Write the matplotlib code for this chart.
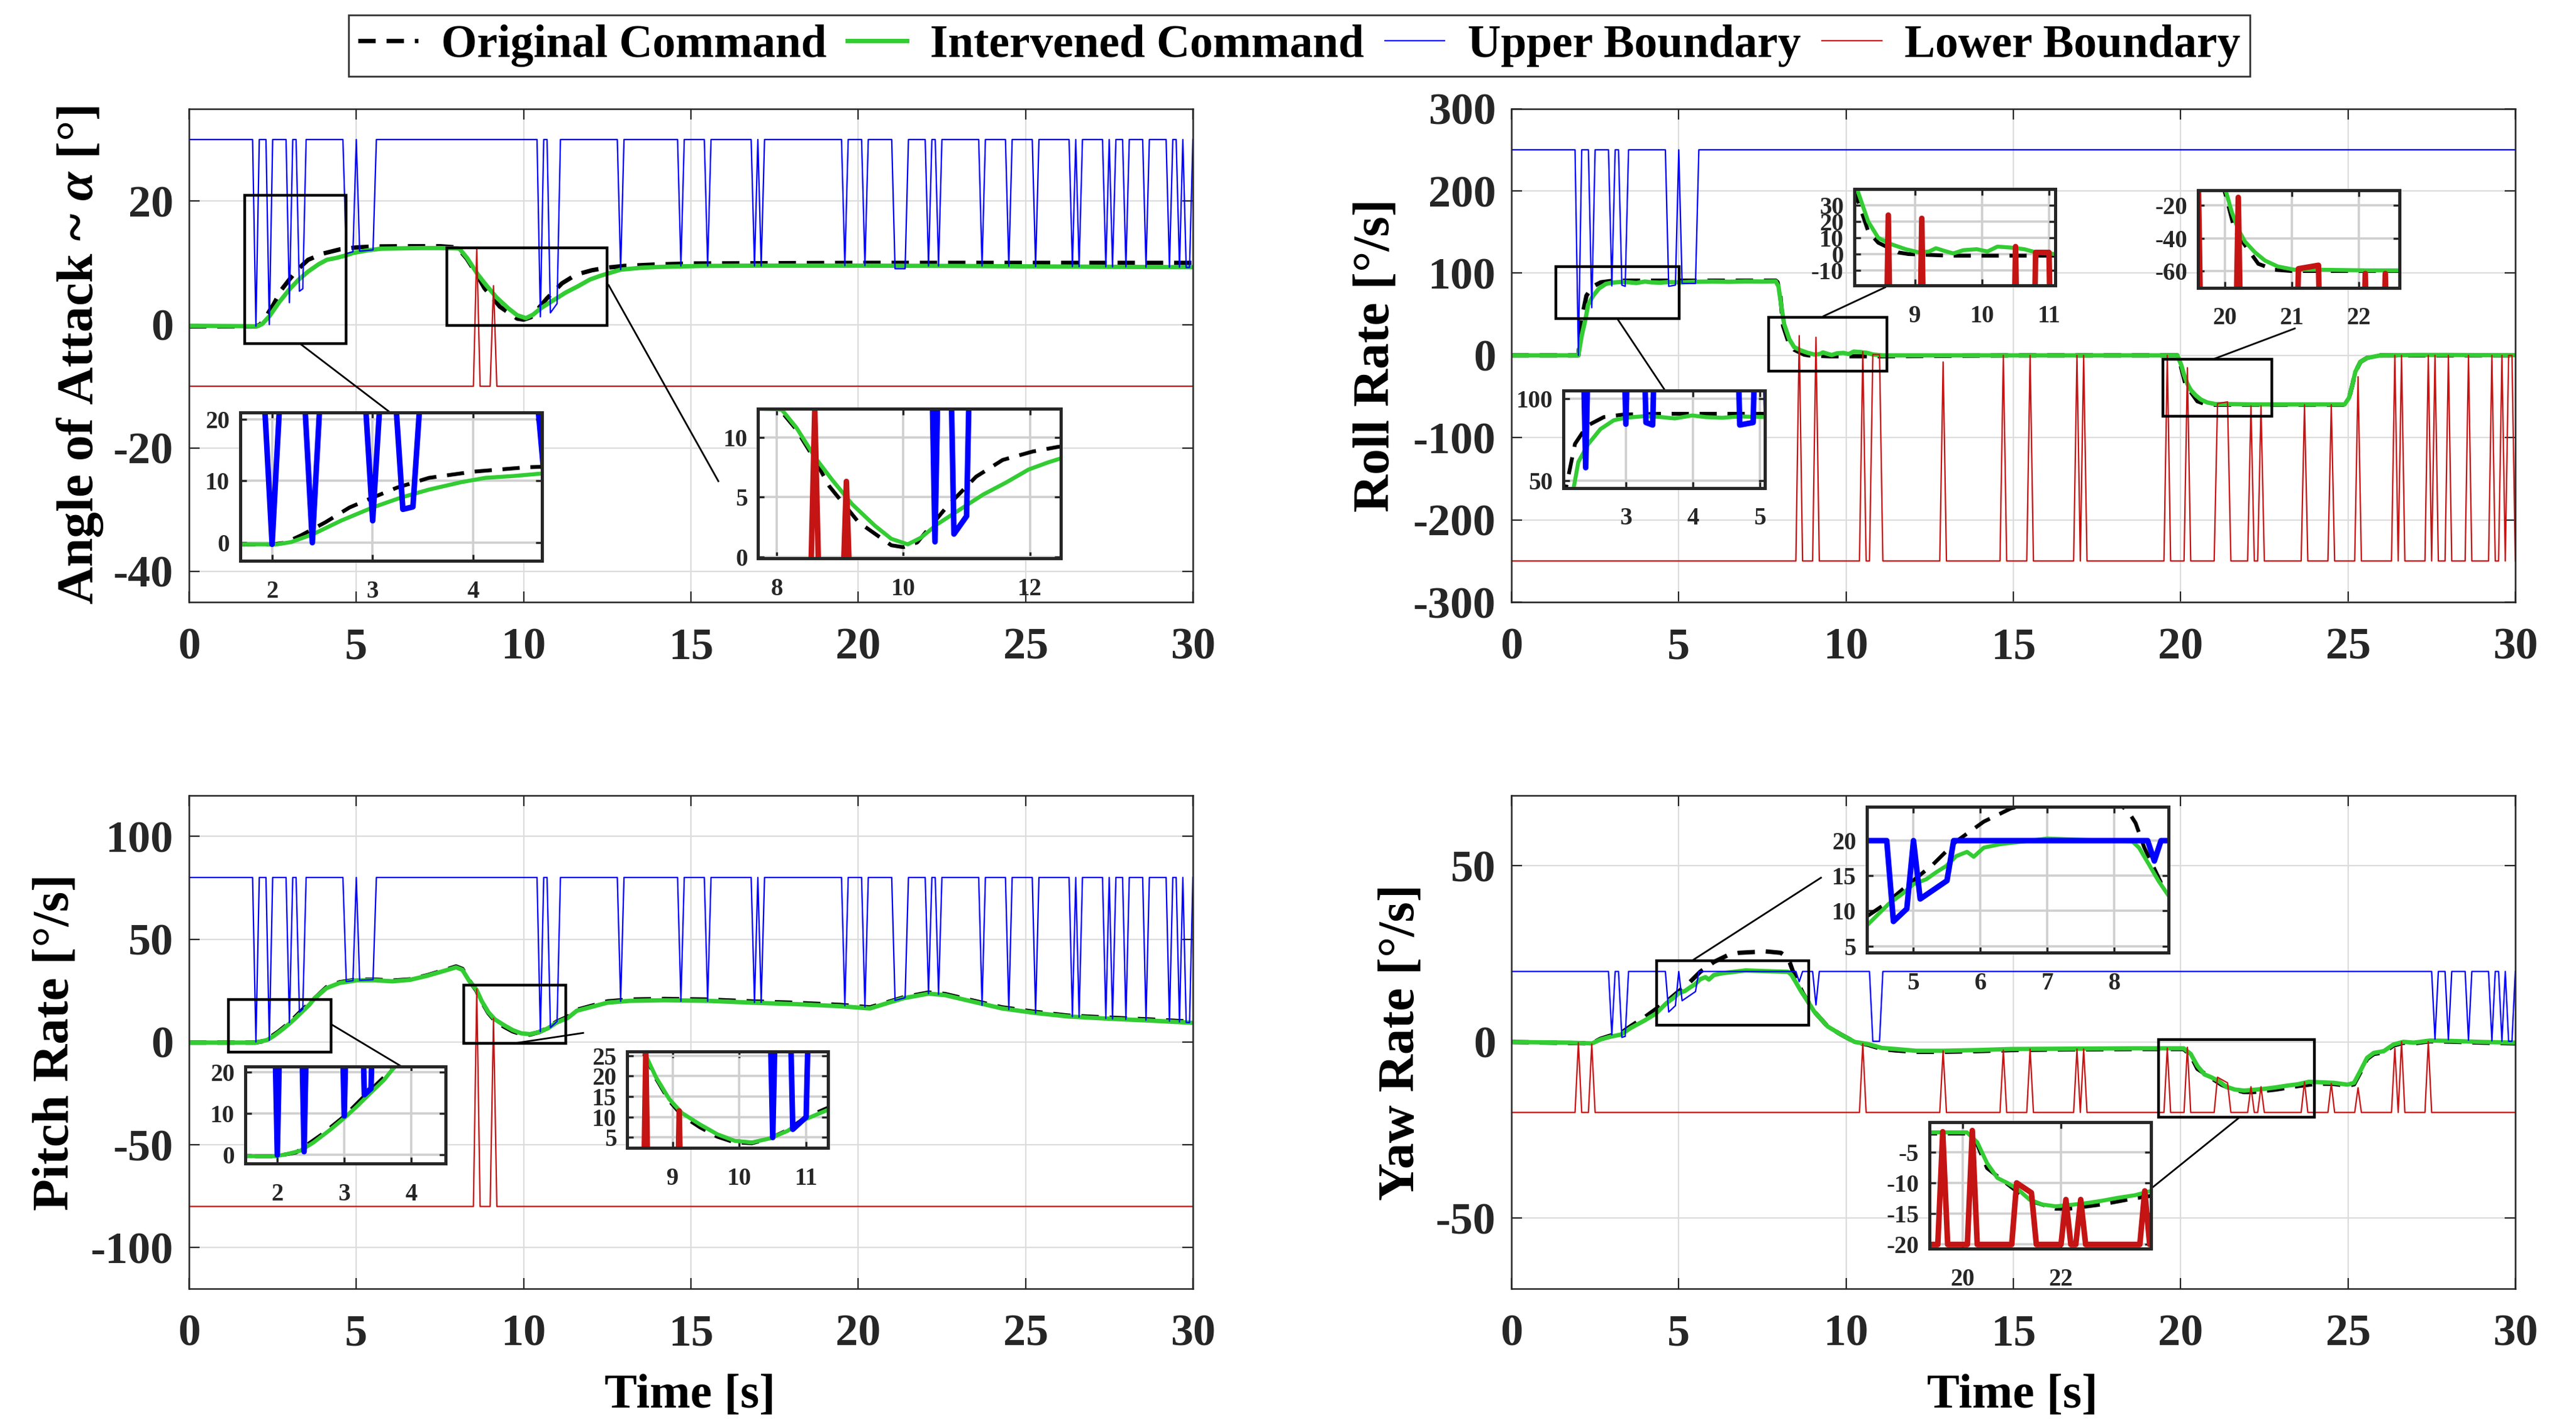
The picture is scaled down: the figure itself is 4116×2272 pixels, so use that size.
import matplotlib
matplotlib.use('Agg')
import matplotlib.pyplot as plt
from matplotlib.patches import Rectangle

plt.rcParams['font.family'] = ['Liberation Serif', 'DejaVu Serif']
plt.rcParams['font.weight'] = 'bold'
plt.rcParams['axes.labelweight'] = 'bold'
plt.rcParams['mathtext.fontset'] = 'custom'
plt.rcParams['mathtext.rm'] = 'Liberation Serif:bold'
plt.rcParams['mathtext.it'] = 'Liberation Serif:italic:bold'
plt.rcParams['axes.unicode_minus'] = False

T_END = 30.0
STEP = 0.1  # sample period of the boundary signals

# ---------------- angle of attack ----------------
aoa_t_int = [0, 1.9, 2.05, 2.19, 2.41, 2.69, 3.0, 3.28, 3.56, 3.88, 4.12, 4.4, 4.68, 4.9, 5.3, 5.74,
             6.3, 6.93, 7.5, 8.0, 8.08, 8.31, 8.62, 8.88, 9.19, 9.55, 9.81, 10.07, 10.28, 10.53, 10.85,
             11.26, 11.62, 11.98, 12.29, 12.47, 12.9, 13.5, 14.1, 15.3, 17.0, 20.0, 23.0, 26.0, 28.0, 30.0]
aoa_int = [-0.2, -0.27, -0.27, 0.1, 1.4, 3.6, 5.7, 7.3, 8.6, 9.8, 10.5, 10.8, 11.2, 11.6, 12.0, 12.3,
           12.35, 12.4, 12.4, 12.35, 12.3, 10.8, 8.2, 6.4, 4.4, 2.6, 1.5, 1.04, 1.6, 2.7, 3.8,
           5.2, 6.2, 7.3, 7.9, 8.2, 8.9, 9.2, 9.35, 9.5, 9.55, 9.55, 9.5, 9.4, 9.35, 9.3]
aoa_t_org = [0, 2.0, 2.13, 2.29, 2.53, 2.77, 3.0, 3.24, 3.56, 4.0, 4.52, 5.0, 5.5, 6.5, 7.5, 8.0, 8.05,
             8.3, 8.57, 8.83, 9.29, 9.81, 10.0, 10.22, 10.69, 11.15, 11.57, 12.04, 12.45, 13.0, 14.0,
             15.0, 20.0, 25.0, 30.0]
aoa_org = [-0.3, -0.3, 0.0, 1.2, 3.3, 5.7, 7.3, 8.9, 10.5, 11.5, 12.2, 12.5, 12.65, 12.7, 12.7, 12.5, 12.3,
           10.7, 8.4, 5.9, 2.9, 0.96, 0.8, 1.2, 4.2, 6.7, 8.1, 8.8, 9.2, 9.5, 9.75,
           9.9, 10.0, 10.0, 10.0]
aoa_upper = 30.0
aoa_lower = -10.0
aoa_up_dips = [(2.0, -0.27), (2.4, 0.0), (3.0, 3.55), (3.3, 3.4, 5.4, 5.8), (4.7, 4.9, 11.5, 11.8),
               (5.1, 5.5, 11.9, 12.1), (10.5, 1.25), (10.8, 11.0, 1.9, 3.4), (12.9, 8.9), (14.7, 9.5),
               (15.5, 9.5), (16.9, 9.5), (17.1, 9.5), (19.6, 9.55), (20.2, 9.55), (21.1, 21.4, 9.05, 9.05),
               (22.1, 9.5), (22.4, 9.5), (23.7, 9.5), (24.5, 9.45), (25.3, 9.4), (26.4, 9.4), (26.6, 9.4),
               (27.4, 9.35), (27.6, 9.35), (28.0, 9.35), (28.6, 9.3), (29.3, 9.3), (29.6, 9.3),
               (29.8, 29.9, 9.25, 9.25)]
aoa_low_dips = [(8.6, 12.3), (9.1, 6.3)]

# ---------------- roll rate ----------------
roll_t_int = [0, 2.0, 2.1, 2.22, 2.29, 2.44, 2.62, 2.82, 3.0, 3.28, 3.53, 3.73, 3.99, 4.19, 4.44, 4.7,
              5.08, 5.5, 6.0, 6.5, 7.0, 7.5, 7.9, 7.98, 8.08, 8.15, 8.3, 8.45, 8.65, 8.86, 9.06, 9.21,
              9.31, 9.45, 9.57, 9.72, 9.92, 10.08, 10.23, 10.43, 10.63, 10.81, 11.09, 12.0, 15.0, 19.9,
              20.02, 20.1, 20.2, 20.3, 20.45, 20.6, 20.79, 21.04, 21.4, 22.13, 23.0, 24.0, 24.9, 25.03,
              25.13, 25.22, 25.37, 25.57, 25.97, 27.0, 28.0, 29.0, 30.0]
roll_int = [0, 0, 24, 45.6, 61.5, 72.5, 81.5, 86.9, 88.4, 89.4, 88.8, 88, 89.8, 88.8, 88.4, 89.2,
            88.8, 89.5, 89.8, 89.5, 90, 89.8, 90, 84, 56, 38, 20, 10, 6, 3, 1, 1.6,
            3.6, 1.8, 0.4, 2.4, 3, 1.6, 4.6, 4, 3, 1, 0, 0, 0, 0,
            -12, -23.6, -34.6, -42, -48.6, -53.6, -57.2, -59.2, -59.2, -59.6, -59.6, -59.6, -59.6, -51.6,
            -35.7, -19.8, -7.9, -3.1, 0, 0.5, 0.5, 0.3, 0.3]
roll_t_org = [0, 2.0, 2.11, 2.24, 2.42, 2.67, 2.97, 3.5, 5.0, 6.0, 7.0, 7.9, 7.95, 8.03, 8.12, 8.3, 8.45,
              8.75, 8.9, 9.5, 11.0, 15.0, 19.9, 20.0, 20.15, 20.5, 20.74, 21.0, 23.0, 24.9, 25.03, 25.13,
              25.22, 25.37, 25.57, 25.97, 30.0]
roll_org = [0, 0, 46.6, 72.5, 83.5, 88.8, 90.4, 90.8, 90.8, 90.8, 90.8, 90.8, 89, 75, 36, 14, 7,
            1, 0, -1, -1, 0, 0, -12, -35.6, -55.6, -59.2, -60, -60, -60, -52, -36,
            -20, -8, -3, 0, 0]
roll_upper = 250.0
roll_lower = -250.0
roll_up_dips = [(2.0, 0.0), (2.4, 58.0), (3.0, 84.5), (3.3, 3.4, 85.5, 84.0), (4.7, 4.9, 84.0, 85.5),
                (5.1, 5.5, 87.5, 87.5)]
roll_low_dips = [(8.6, 24.0), (9.1, 22.0), (10.5, 4.6), (10.8, 11.0, 1.0, 1.0), (12.9, -8.0), (14.7, 0.0),
                 (15.5, 0.0), (16.9, 0.0), (17.1, 0.0), (19.6, 0.0), (20.2, -15.0), (21.1, 21.4, -58.6, -56.5),
                 (22.1, -61.5), (22.4, -61.5), (23.7, -60.0), (24.5, -60.0), (25.3, -26.0), (26.4, 0.0),
                 (26.6, 0.0), (27.4, 0.0), (27.6, 0.0), (28.0, 0.0), (28.6, 0.0), (29.3, 0.0), (29.6, 0.0),
                 (29.8, 29.9, 0.0, 0.0)]

# ---------------- pitch rate ----------------
pitch_t_int = [0, 1.98, 2.14, 2.34, 2.54, 2.8, 3.0, 3.19, 3.39, 3.59, 3.75, 4.11, 4.5, 5.02, 5.55, 6.08,
               6.6, 7.12, 7.65, 7.98, 8.17, 8.37, 8.59, 8.75, 8.95, 9.14, 9.41, 9.67, 9.93, 10.19, 10.46,
               10.72, 10.98, 11.33, 11.59, 12.11, 12.5, 13.16, 14.21, 15.52, 16.83, 18.14, 19.46, 20.35,
               20.87, 21.36, 22.1, 22.59, 23.32, 24.3, 25.29, 26.27, 27.5, 28.73, 30.0]
pitch_int = [-0.3, -0.3, 0.2, 1.0, 3.0, 6.2, 8.9, 11.7, 14.9, 18.0, 21.2, 26.2, 28.7, 30.0, 30.0, 29.5,
             30.2, 32.2, 34.7, 36.3, 35.1, 29.8, 25.4, 19.8, 14.4, 11.0, 8.2, 5.8, 4.2, 3.8, 4.8,
             6.6, 9.4, 11.8, 15.2, 17.4, 19.1, 20.0, 20.3, 20.0, 19.1, 18.4, 17.4, 16.3,
             18.9, 21.3, 23.5, 22.8, 20.0, 16.3, 14.1, 12.4, 11.3, 10.4, 9.3]
pitch_t_org = [0, 1.98, 2.28, 2.67, 3.0, 3.32, 3.65, 4.11, 4.5, 5.02, 5.55, 6.08, 6.6, 7.12, 7.65, 7.98,
               8.17, 8.37, 8.59, 8.75, 8.95, 9.14, 9.41, 9.67, 9.93, 10.19, 10.46, 10.72, 10.98, 11.33,
               11.59, 12.11, 12.5, 13.16, 14.21, 15.52, 16.83, 18.14, 19.46, 20.35, 20.87, 21.36, 22.1,
               22.59, 23.32, 24.3, 25.29, 26.27, 27.5, 28.73, 30.0]
pitch_org = [-0.3, -0.3, 0.6, 5.0, 9.3, 14.5, 19.6, 26.6, 29.0, 30.3, 30.3, 29.8, 30.4, 32.4, 35.0, 36.7,
             35.5, 30.0, 25.0, 19.5, 14.0, 10.4, 7.5, 5.2, 3.8, 3.6, 4.8, 6.8, 9.8, 12.3,
             15.6, 17.9, 19.7, 20.6, 20.9, 20.6, 19.7, 19.0, 18.0, 16.8, 19.3, 21.7, 24.0,
             23.3, 20.5, 16.8, 14.6, 12.8, 11.8, 10.9, 9.8]
pitch_upper = 80.0
pitch_lower = -80.0
pitch_up_dips = [(2.0, 0.0), (2.4, 0.8), (3.0, 9.4), (3.3, 3.4, 14.5, 16.0), (4.7, 4.9, 29.4, 29.8),
                 (5.1, 5.5, 30.0, 30.3), (10.5, 5.0), (10.8, 11.0, 7.0, 10.0), (12.9, 19.8), (14.7, 19.8),
                 (15.5, 19.8), (16.9, 19.2), (17.1, 19.2), (19.6, 17.6), (20.2, 17.0), (21.1, 21.4, 20.2, 21.5),
                 (22.1, 23.5), (22.4, 23.2), (23.7, 17.8), (24.5, 15.8), (25.3, 14.0), (26.4, 12.3),
                 (26.6, 12.1), (27.4, 11.4), (27.6, 11.2), (28.0, 11.0), (28.6, 10.6), (29.3, 10.1),
                 (29.6, 9.7), (29.8, 29.9, 9.5, 9.4)]
pitch_low_dips = [(8.6, 25.8), (9.1, 11.5)]

# ---------------- yaw rate ----------------
yaw_t_int = [0, 1.75, 2.41, 2.66, 2.96, 3.27, 3.57, 3.98, 4.31, 4.48, 4.63, 4.83, 5.0, 5.19, 5.34, 5.49,
             5.64, 5.8, 5.9, 6.05, 6.3, 6.66, 7.0, 7.57, 8.27, 8.37, 8.52, 8.66, 8.81, 9.05, 9.45, 9.85,
             10.26, 10.66, 11.07, 11.48, 12.09, 12.9, 13.91, 14.93, 16.66, 18.64, 20.09, 20.3, 20.5,
             20.71, 20.91, 21.12, 21.36, 21.62, 21.89, 22.16, 22.5, 22.83, 23.17, 23.5, 23.83, 24.09,
             24.58, 24.98, 25.18, 25.37, 25.57, 25.77, 26.07, 26.36, 26.66, 26.96, 27.45, 28.05, 29.04, 30.0]
yaw_int = [0, -0.2, -0.4, 0.7, 1.5, 2.1, 4.0, 6.1, 8.0, 9.6, 11.0, 12.4, 13.8, 14.5, 15.5, 16.4,
           17.8, 18.4, 17.7, 19.0, 19.5, 19.9, 20.3, 20.1, 19.9, 19.0, 16.6, 14.3, 12.2, 8.6, 4.4, 2.1,
           0.0, -0.6, -1.7, -2.0, -2.5, -2.5, -2.3, -2.0, -1.9, -1.8, -1.8, -3.4, -6.8,
           -9.2, -10.0, -11.0, -12.7, -13.5, -13.8, -13.6, -13.3, -12.9, -12.4, -12.0, -11.3, -11.4,
           -11.6, -12.1, -11.6, -8.2, -4.5, -3.1, -2.6, -0.7, 0.05, -0.2, 0.4, 0.3, 0.0, -0.2]
yaw_t_org = [0, 2.41, 2.66, 2.96, 3.27, 3.57, 3.98, 4.3, 4.58, 4.93, 5.29, 5.64, 6.05, 6.46, 6.8, 7.6,
             8.05, 8.2, 8.32, 8.45, 8.52, 8.71, 9.05, 9.45, 9.85, 10.26, 10.66, 11.07, 11.48, 12.09,
             12.9, 13.91, 14.93, 16.66, 18.64, 20.09, 20.3, 20.5, 20.85, 21.22, 21.49, 21.89, 22.16,
             22.83, 23.5, 24.09, 24.58, 24.98, 25.18, 25.37, 25.57, 25.77, 26.07, 26.36, 26.66, 26.96,
             27.45, 28.05, 29.04, 30.0]
yaw_org = [0, -0.4, 0.9, 1.8, 2.5, 4.5, 7.0, 9.2, 11.0, 13.8, 16.6, 19.9, 22.7, 24.6, 25.3, 25.7,
           25.3, 24.3, 22.5, 19.0, 17.6, 13.8, 8.6, 4.4, 2.1, 0.0, -0.8, -2.0, -2.4, -2.8,
           -2.8, -2.6, -2.3, -2.1, -2.0, -2.0, -3.8, -7.6, -9.8, -12.1, -13.2, -14.2, -14.2,
           -13.5, -12.5, -11.8, -11.9, -12.4, -12.0, -8.6, -4.8, -3.4, -2.9, -1.0, -0.2, -0.4,
           0.2, 0.1, -0.2, -0.4]
yaw_upper = 20.0
yaw_lower = -20.0
yaw_up_dips = [(3.0, 2.0), (3.3, 3.4, 1.3, 1.6), (4.7, 4.9, 8.5, 10.3), (5.1, 5.5, 11.7, 14.3), (8.6, 17.1),
               (9.1, 10.5), (10.8, 11.0, 0.2, 0.2), (27.6, 0.8), (28.0, 0.6), (28.6, 0.5), (29.3, 0.3),
               (29.6, 0.2), (29.8, 29.9, 0.2, 0.2)]
yaw_low_dips = [(2.0, -0.2), (2.4, -0.6), (10.5, -0.5), (12.9, -2.5), (14.7, -2.3), (15.5, -2.0), (16.9, -2.0),
                (17.1, -2.0), (19.6, -1.7), (20.2, -1.5), (21.1, 21.4, -10.0, -11.6), (22.1, -12.7),
                (22.4, -12.7), (23.7, -11.3), (24.5, -11.8), (25.3, -13.0), (26.4, -1.8), (26.6, 0.1),
                (27.4, 0.1)]

legend_labels = ['Original Command', 'Intervened Command', 'Upper Boundary', 'Lower Boundary']

GREEN = '#33CC33'
BLUE = '#0000FF'
RED = '#C41414'
DARK = '#262626'


def bound_line(level, dips):
    t, v = [0.0], [level]
    for d in dips:
        if len(d) == 2:
            a = b = d[0]
            va = vb = d[1]
        else:
            a, b, va, vb = d
        t += [a - STEP, a, b, b + STEP]
        v += [level, va, vb, level]
    t.append(T_END)
    v.append(level)
    return t, v


# layout of the four panels (figure fractions)
LX, RX, W = 0.07337, 0.58674, 0.38970
TY, BY, H = 0.57658, 0.09375, 0.3470

panels = [
    dict(pos=[LX, TY, W, H], ylim=(-45, 35), yticks=[-40, -20, 0, 20],
         ylabel='Angle of Attack ~ $\\alpha$ [°]', ylab_x=-0.1085, xlabel=False,
         org=(aoa_t_org, aoa_org), itv=(aoa_t_int, aoa_int),
         up=(aoa_upper, aoa_up_dips), low=(aoa_lower, aoa_low_dips),
         insets=[
             dict(rect=[0.09325, 0.6055, 0.11713, 0.10427], xlim=(1.683, 4.683), ylim=(-2.97, 21.06),
                  xt=[2, 3, 4], yt=[0, 10, 20], box=(1.66, 4.69, -3.1, 21.0), link=(3.31, -3.07, 6.0, -14.2)),
             dict(rect=[0.29431, 0.60731, 0.11742, 0.10519], xlim=(7.705, 12.486), ylim=(-0.14, 12.38),
                  xt=[8, 10, 12], yt=[0, 5, 10], box=(7.7, 12.5, -0.1, 12.43), link=(12.54, 6.4, 15.82, -25.4)),
         ]),
    dict(pos=[RX, TY, W, H], ylim=(-300, 300), yticks=[-300, -200, -100, 0, 100, 200, 300],
         ylabel='Roll Rate [°/s]', ylab_x=-0.1347, xlabel=False,
         org=(roll_t_org, roll_org), itv=(roll_t_int, roll_int),
         up=(roll_upper, roll_up_dips), low=(roll_lower, roll_low_dips),
         insets=[
             dict(rect=[0.60680, 0.65678, 0.07835, 0.06862], xlim=(2.063, 5.076), ylim=(45.6, 105),
                  xt=[3, 4, 5], yt=[50, 100], box=(1.32, 5.01, 44.6, 107.6), link=(3.19, 43.0, 4.61, -43.8)),
             dict(rect=[0.71978, 0.79908, 0.07799, 0.068], xlim=(8.09, 11.09), ylim=(-19.5, 40.1),
                  xt=[9, 10, 11], yt=[-10, 0, 10, 20, 30], box=(7.69, 11.22, -19.1, 46.6),
                  link=(9.33, 47.8, 11.17, 82.8)),
             dict(rect=[0.85333, 0.79767, 0.07809, 0.06835], xlim=(19.6, 22.61), ylim=(-70.2, -10.8),
                  xt=[20, 21, 22], yt=[-60, -40, -20], box=(19.47, 22.72, -73.6, -4.7),
                  link=(21.02, -3.9, 23.41, 32.7)),
         ]),
    dict(pos=[LX, BY, W, H], ylim=(-120, 120), yticks=[-100, -50, 0, 50, 100],
         ylabel='Pitch Rate [°/s]', ylab_x=-0.133, xlabel=True,
         org=(pitch_t_org, pitch_org), itv=(pitch_t_int, pitch_int),
         up=(pitch_upper, pitch_up_dips), low=(pitch_lower, pitch_low_dips),
         insets=[
             dict(rect=[0.09517, 0.18165, 0.07772, 0.06835], xlim=(1.52, 4.51), ylim=(-2.1, 21.3),
                  xt=[2, 3, 4], yt=[0, 10, 20], box=(1.17, 4.24, -4.9, 20.6), link=(4.24, 8.7, 6.39, -12.3)),
             dict(rect=[0.24344, 0.19269, 0.07806, 0.06791], xlim=(8.32, 11.33), ylim=(2.44, 26.04),
                  xt=[9, 10, 11], yt=[5, 10, 15, 20, 25], box=(8.21, 11.26, -0.8, 27.5),
                  link=(9.72, -0.65, 11.78, 4.4)),
         ]),
    dict(pos=[RX, BY, W, H], ylim=(-70, 70), yticks=[-50, 0, 50],
         ylabel='Yaw Rate [°/s]', ylab_x=-0.110, xlabel=True,
         org=(yaw_t_org, yaw_org), itv=(yaw_t_int, yaw_int),
         up=(yaw_upper, yaw_up_dips), low=(yaw_lower, yaw_low_dips),
         insets=[
             dict(rect=[0.72464, 0.33011, 0.11713, 0.10246], xlim=(4.3, 8.81), ylim=(4.07, 24.8),
                  xt=[5, 6, 7, 8], yt=[5, 10, 15, 20], box=(4.34, 8.89, 4.7, 23.0),
                  link=(5.45, 23.4, 9.25, 46.6)),
             dict(rect=[0.74900, 0.12179, 0.08608, 0.08908], xlim=(19.33, 23.83), ylim=(-20.7, -0.14),
                  xt=[20, 22], yt=[-20, -15, -10, -5], box=(19.33, 23.99, -21.3, 0.7),
                  link=(21.73, -21.6, 19.18, -41.1)),
         ]),
]


def draw_series(ax, p, ub, lb, inset):
    if inset:
        lw_org, lw_int, lw_b, dash = 2.2, 2.3, 3.2, (4.5, 2.8)
    else:
        lw_org, lw_int, lw_b, dash = 2.5, 2.5, 0.8, (4, 2.5)
    h1, = ax.plot(*p['org'], color='black', lw=lw_org, dashes=dash)
    h2, = ax.plot(*p['itv'], color=GREEN, lw=lw_int)
    h3, = ax.plot(*ub, color=BLUE, lw=lw_b)
    h4, = ax.plot(*lb, color=RED, lw=lw_b)
    return [h1, h2, h3, h4]


fig = plt.figure(figsize=(20.58, 11.36), dpi=200)
handles = None

for p in panels:
    ax = fig.add_axes(p['pos'])
    ub = bound_line(*p['up'])
    lb = bound_line(*p['low'])
    hs = draw_series(ax, p, ub, lb, inset=False)
    if handles is None:
        handles = hs
    ax.set_xlim(0, 30)
    ax.set_ylim(*p['ylim'])
    ax.set_xticks(range(0, 31, 5))
    ax.set_yticks(p['yticks'])
    ax.grid(True, color='#dcdcdc', lw=0.8)
    ax.set_axisbelow(True)
    ax.tick_params(direction='in', length=6, width=0.8, top=True, right=True,
                   labelsize=26, colors=DARK)
    ax.tick_params(axis='x', pad=14.5)
    ax.tick_params(axis='y', pad=9)
    for s in ax.spines.values():
        s.set_color(DARK)
        s.set_linewidth(0.9)
    ax.set_ylabel(p['ylabel'], fontsize=30, fontweight='bold', va='center')
    ax.yaxis.set_label_coords(p['ylab_x'], 0.5)
    if p['xlabel']:
        ax.set_xlabel('Time [s]', fontsize=28, fontweight='bold')
        ax.xaxis.set_label_coords(0.499, -0.172)

    for ins in p['insets']:
        x0, x1, y0, y1 = ins['box']
        ax.add_patch(Rectangle((x0, y0), x1 - x0, y1 - y0, fill=False, ec='black', lw=1.6, zorder=6))
        a, b, c, d = ins['link']
        ax.plot([a, c], [b, d], color='black', lw=1.0, zorder=6)

        axi = fig.add_axes(ins['rect'], zorder=10)
        draw_series(axi, p, ub, lb, inset=True)
        axi.set_xlim(*ins['xlim'])
        axi.set_ylim(*ins['ylim'])
        axi.set_xticks(ins['xt'])
        axi.set_yticks(ins['yt'])
        axi.grid(True, color='#cfcfcf', lw=1.3)
        axi.set_axisbelow(True)
        axi.tick_params(direction='in', length=3.5, width=1.2, top=True, right=True,
                        labelsize=14, colors=DARK)
        axi.tick_params(axis='x', pad=11)
        axi.tick_params(axis='y', pad=6)
        for s in axi.spines.values():
            s.set_color(DARK)
            s.set_linewidth(1.8)

leg = fig.legend(handles, legend_labels, loc='center', bbox_to_anchor=(0.5044, 0.9679), ncol=4,
                 frameon=True, fancybox=False, edgecolor='black', fontsize=26.5,
                 handlelength=1.3, handletextpad=0.5, columnspacing=0.45, borderpad=0.2)
leg.get_frame().set_linewidth(1.0)

fig.savefig('out.png', dpi=200, facecolor='white')
